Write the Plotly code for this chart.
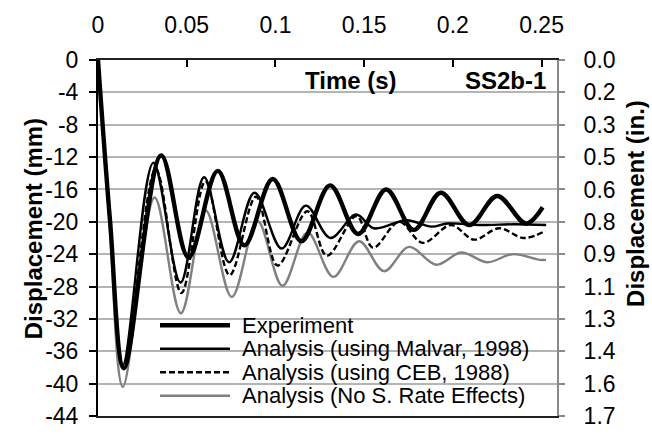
import plotly.graph_objects as go

# ---------------- data ----------------
t_exp = [0, 0.0068, 0.0146, 0.0356, 0.0510, 0.0675, 0.0825, 0.0985, 0.1146, 0.1308,
         0.1466, 0.1624, 0.1780, 0.1932, 0.2093, 0.2250, 0.2412, 0.2506]
d_exp = [0, -19.9, -38.1, -11.8, -24.4, -13.7, -22.9, -14.7, -22.4, -15.5,
         -21.5, -16.0, -21.0, -16.4, -20.4, -16.8, -20.2, -18.2]

t_mal = [0, 0.0066, 0.0140, 0.0312, 0.0465, 0.0598, 0.0739, 0.0882, 0.1035, 0.1171,
         0.1310, 0.1455, 0.1555, 0.1740, 0.1880, 0.1970, 0.2150, 0.2350, 0.2526]
d_mal = [0, -19.8, -37.7, -12.7, -27.5, -14.5, -25.0, -16.4, -23.3, -18.0,
         -22.0, -19.1, -20.8, -19.8, -20.6, -20.2, -20.4, -20.3, -20.4]

t_ceb = [0, 0.0068, 0.0146, 0.0325, 0.0470, 0.0605, 0.0742, 0.0890, 0.1012, 0.1180,
         0.1290, 0.1457, 0.1550, 0.1697, 0.1830, 0.1990, 0.2120, 0.2260, 0.2400, 0.2524]
d_ceb = [0, -19.9, -38.1, -13.5, -28.8, -15.0, -26.6, -16.9, -25.4, -18.7,
         -24.2, -19.3, -23.2, -20.0, -22.6, -20.4, -22.2, -20.8, -22.0, -21.1]

t_nsr = [0, 0.0066, 0.0140, 0.0319, 0.0467, 0.0607, 0.0754, 0.0899, 0.1040, 0.1181,
         0.1326, 0.1471, 0.1612, 0.1753, 0.1906, 0.2047, 0.2195, 0.2337, 0.2490, 0.2525]
d_nsr = [0, -20.5, -40.4, -17.0, -31.3, -18.6, -29.3, -19.9, -27.9, -21.3,
         -26.8, -22.4, -26.1, -23.1, -25.3, -23.8, -25.0, -24.0, -24.7, -24.7]

series_names = ["Experiment", "Analysis (using Malvar, 1998)",
                "Analysis (using CEB, 1988)", "Analysis (No S. Rate Effects)"]

x_tick_vals = [0, 0.05, 0.10, 0.15, 0.20, 0.25]
x_tick_text = ["0", "0.05", "0.1", "0.15", "0.2", "0.25"]
y_tick_vals = [0, -4, -8, -12, -16, -20, -24, -28, -32, -36, -40, -44]
y_tick_text = ["0", "-4", "-8", "-12", "-16", "-20", "-24", "-28", "-32", "-36", "-40", "-44"]
y2_tick_text = ["0.0", "0.2", "0.3", "0.5", "0.6", "0.8", "0.9", "1.1", "1.3", "1.4", "1.6", "1.7"]

# ---------------- styling / layout ----------------
W, H = 652, 441
L, R, T, B = 98, 557, 50, 428.5
FONT = "Arial, Liberation Sans, sans-serif"

def px_x(px):
    return (px - L) / (R - L)

def px_y(py):
    return (B - py) / (B - T)

styles = [
    dict(color="black", width=4.4),
    dict(color="black", width=2.4),
    dict(color="black", width=2.4, dash="6px,3px"),
    dict(color="#808080", width=2.4),
]
data = [(t_exp, d_exp), (t_mal, d_mal), (t_ceb, d_ceb), (t_nsr, d_nsr)]

fig = go.Figure()
for i in [3, 2, 1, 0]:
    tx, dy = data[i]
    fig.add_trace(go.Scatter(
        x=tx, y=dy, mode="lines", name=series_names[i],
        line=dict(shape="spline", smoothing=1, **styles[i]),
        showlegend=False, hoverinfo="skip"))

# invisible trace to carry the inch axis
fig.add_trace(go.Scatter(x=[t_exp[0]], y=[d_exp[0]], yaxis="y2", mode="markers",
                         marker=dict(opacity=0), showlegend=False, hoverinfo="skip"))

# manual legend (long sample lines, tight spacing like the reference)
leg_rows = [332, 357, 382, 407]
for i, py in enumerate(leg_rows):
    st = styles[i]
    fig.add_shape(type="line", xref="paper", yref="paper",
                  x0=px_x(160), x1=px_x(230), y0=px_y(py), y1=px_y(py),
                  line=dict(color=st["color"], width=st["width"], dash=st.get("dash", "solid")))
    fig.add_annotation(xref="paper", yref="paper", x=px_x(240), y=px_y(py),
                       text=series_names[i], showarrow=False, xanchor="left", yanchor="middle",
                       font=dict(family=FONT, size=22, color="black"))

# in-plot labels
fig.add_annotation(xref="paper", yref="paper", x=px_x(351), y=px_y(72), text="<b>Time (s)</b>",
                   showarrow=False, xanchor="center", yanchor="middle",
                   font=dict(family=FONT, size=24, color="black"))
fig.add_annotation(xref="paper", yref="paper", x=px_x(548), y=px_y(72), text="<b>SS2b-1</b>",
                   showarrow=False, xanchor="right", yanchor="middle",
                   font=dict(family=FONT, size=24, color="black"))

# axis titles
fig.add_annotation(xref="paper", yref="paper", x=px_x(33), y=px_y(230),
                   text="<b>Displacement (mm)</b>", textangle=-90, showarrow=False,
                   xanchor="center", yanchor="middle",
                   font=dict(family=FONT, size=24, color="black"))
fig.add_annotation(xref="paper", yref="paper", x=px_x(636), y=px_y(203),
                   text="<b>Displacement (in.)</b>", textangle=-90, showarrow=False,
                   xanchor="center", yanchor="middle",
                   font=dict(family=FONT, size=24, color="black"))

fig.update_layout(
    width=W, height=H,
    margin=dict(l=L, r=W - R, t=T, b=H - B, pad=0),
    paper_bgcolor="white", plot_bgcolor="white",
    font=dict(family=FONT, size=23, color="black"),
    xaxis=dict(side="top", range=[0, 0.2587], autorange=False,
               tickmode="array", tickvals=x_tick_vals, ticktext=x_tick_text,
               ticks="inside", ticklen=7, tickwidth=1.5, tickcolor="black",
               showline=True, linecolor="#222222", linewidth=2, mirror=True,
               showgrid=False, zeroline=False, ticklabelstandoff=16,
               tickfont=dict(family=FONT, size=23, color="black")),
    yaxis=dict(range=[-44, 0], autorange=False,
               tickmode="array", tickvals=y_tick_vals, ticktext=y_tick_text,
               ticks="outside", ticklen=7, tickwidth=1.5, tickcolor="black",
               showline=True, linecolor="black", linewidth=2,
               showgrid=True, gridcolor="#b4b4b4", gridwidth=1.5, zeroline=False,
               ticklabelstandoff=6,
               tickfont=dict(family=FONT, size=23, color="black")),
    yaxis2=dict(overlaying="y", side="right", range=[-44, 0], autorange=False,
                tickmode="array", tickvals=y_tick_vals, ticktext=y2_tick_text,
                ticks="outside", ticklen=6, tickwidth=1.5, tickcolor="#8a8a8a",
                showline=True, linecolor="#8a8a8a", linewidth=2,
                showgrid=False, zeroline=False, ticklabelstandoff=14,
                tickfont=dict(family=FONT, size=23, color="black")),
)

fig.write_html("out.html")
